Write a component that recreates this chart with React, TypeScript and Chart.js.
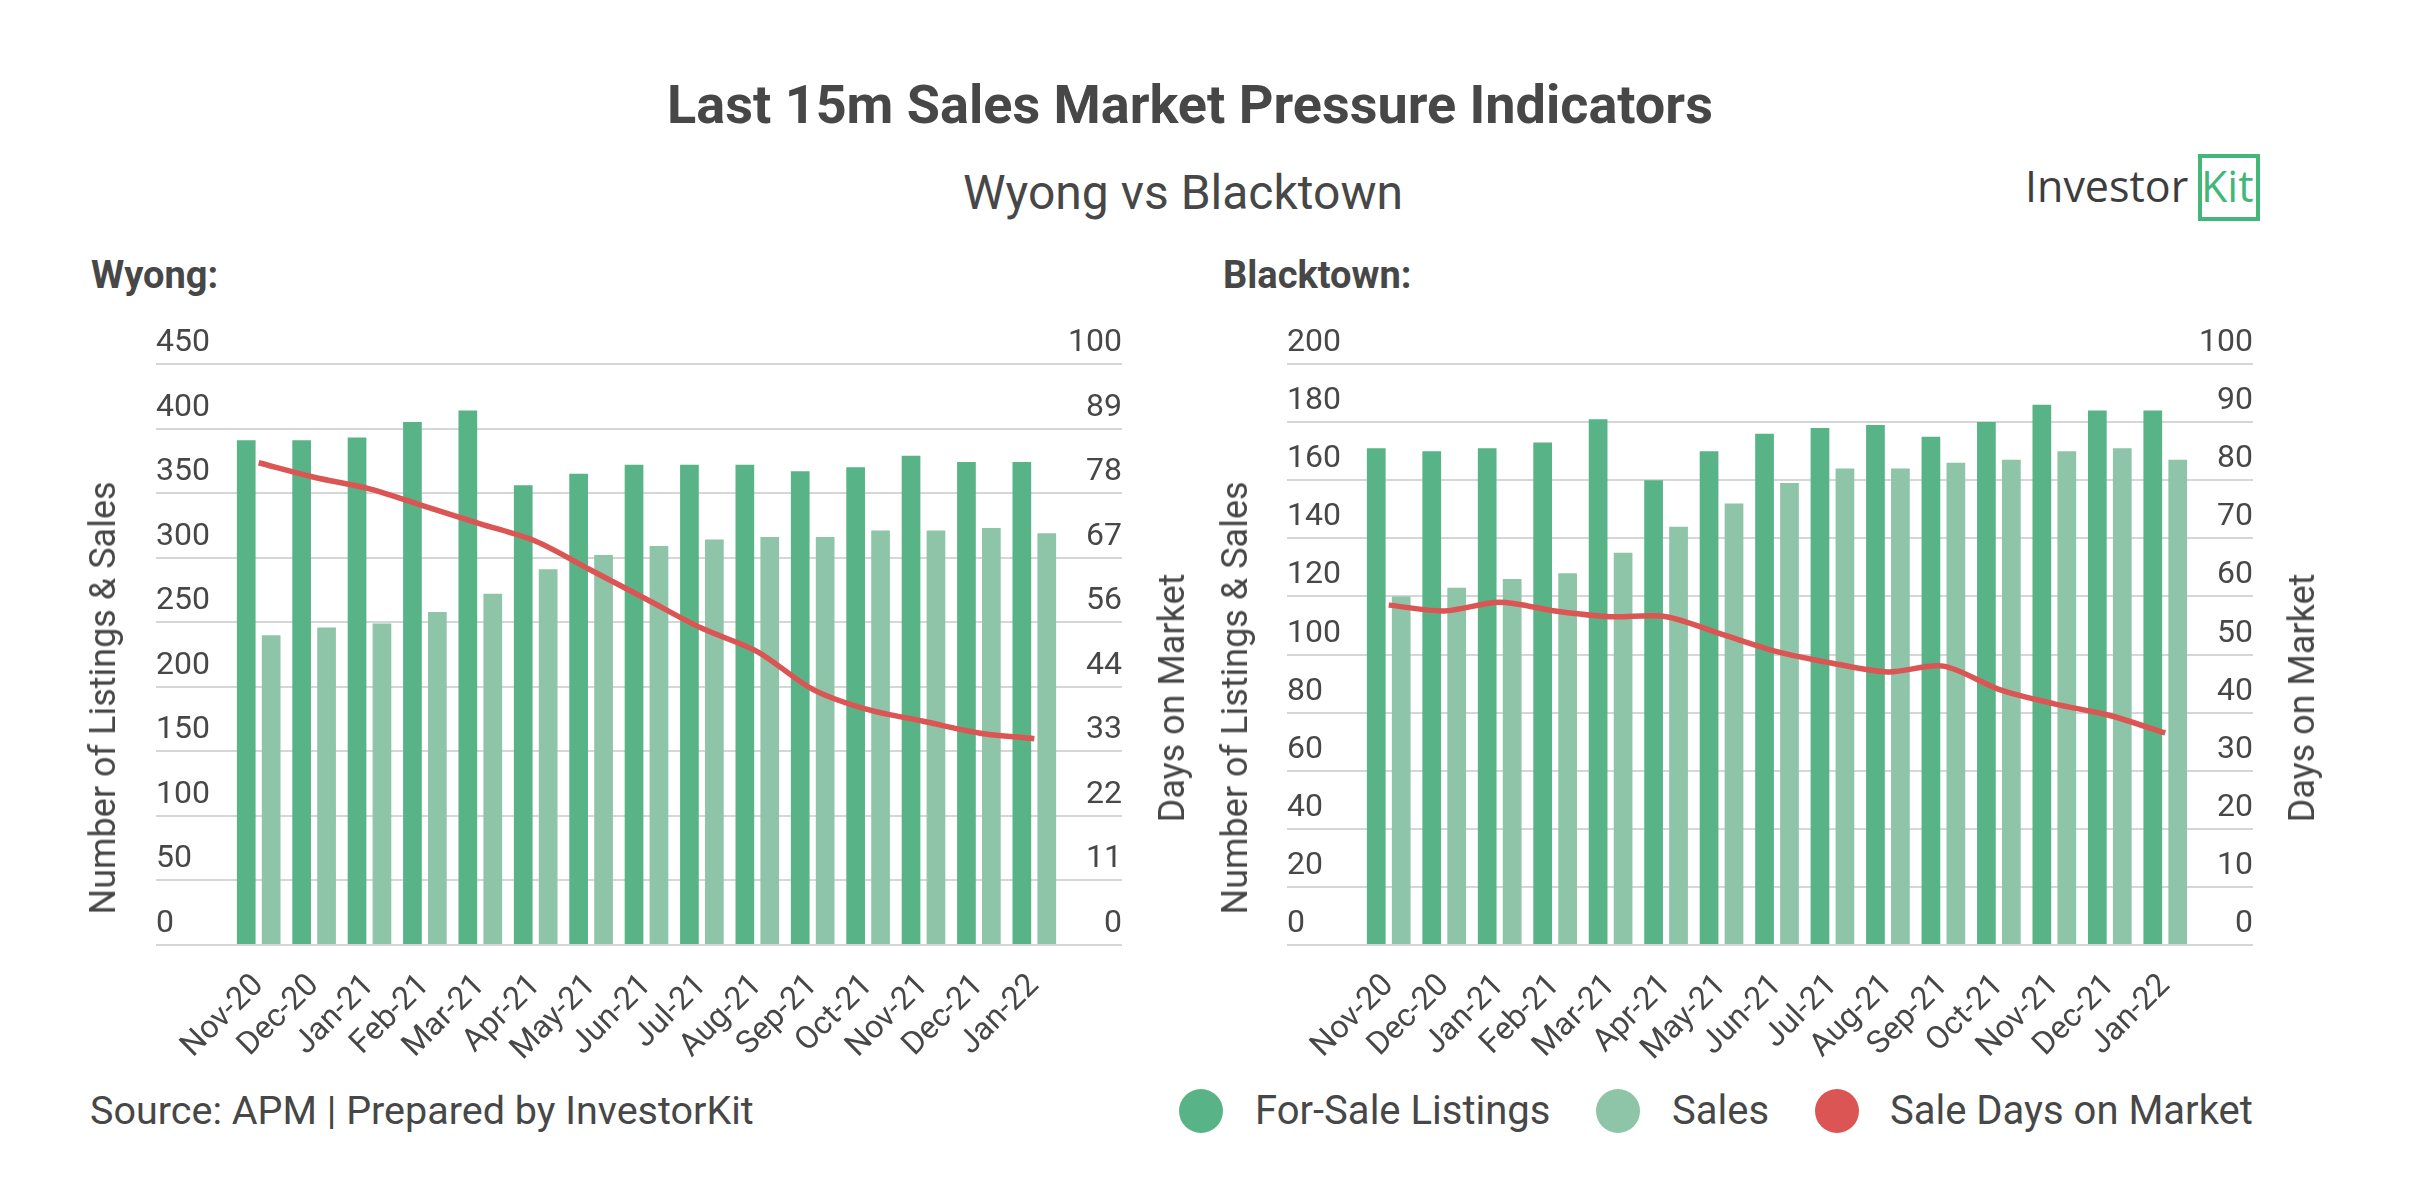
import React, { useEffect, useRef } from 'react';
import { Chart, registerables } from 'chart.js';

Chart.register(...registerables);

// Months shown on both panels
const months = [
  'Nov-20', 'Dec-20', 'Jan-21', 'Feb-21', 'Mar-21', 'Apr-21', 'May-21', 'Jun-21',
  'Jul-21', 'Aug-21', 'Sep-21', 'Oct-21', 'Nov-21', 'Dec-21', 'Jan-22',
];

// Wyong
const wyongListings = [391, 391, 393, 405, 414, 356, 365, 372, 372, 372, 367, 370, 379, 374, 374];
const wyongSales = [240, 246, 249, 258, 272, 291, 302, 309, 314, 316, 316, 321, 321, 323, 319];
const wyongDays = [83, 80.5, 78.5, 75.5, 72.5, 69.5, 64.5, 59.5, 54.5, 50.5, 44, 40.5, 38.5, 36.5, 35.5];

// Blacktown
const blacktownListings = [171, 170, 171, 173, 181, 160, 170, 176, 178, 179, 175, 180, 186, 184, 184];
const blacktownSales = [120, 123, 126, 128, 135, 144, 152, 159, 164, 164, 166, 167, 170, 171, 167];
const blacktownDays = [58.5, 57.5, 59, 57.5, 56.5, 56.5, 53.5, 50.5, 48.5, 47, 48, 44, 41.5, 39.5, 36.5];

// Axis ranges and tick counts
const wyongCountMax = 450;
const wyongCountTicks = 10; // 0, 50, ... 450
const wyongDaysTicks = 10; // 0, 11, 22, ... 100
const blacktownCountMax = 200;
const blacktownCountTicks = 11; // 0, 20, ... 200
const blacktownDaysTicks = 11; // 0, 10, ... 100
const daysMax = 100;

const GREEN = '#58B486';
const LIGHT_GREEN = '#8EC4A8';
const RED = '#DB5555';
const GRID = '#D6D6D6';
const TEXT = '#474747';
const LOGO_GREEN = '#43B77A';
const FONT = 'Roboto';

type PanelProps = {
  left: number;
  listings: number[];
  sales: number[];
  days: number[];
  countMax: number;
  countTicks: number;
  daysTicks: number;
  padLeft: number;
  padRight: number;
  leftTick: number;
  rightTick: number;
  width: number;
};

const PANEL_TOP = 300;
const PANEL_HEIGHT = 780;

function MarketPanel(p: PanelProps) {
  const ref = useRef<HTMLCanvasElement>(null);

  useEffect(() => {
    const tickFont = { family: FONT, size: 32 };
    const chart = new Chart(ref.current as HTMLCanvasElement, {
      type: 'bar',
      data: {
        labels: months,
        datasets: [
          {
            type: 'line',
            label: 'Sale Days on Market',
            data: p.days,
            yAxisID: 'yDays',
            borderColor: RED,
            backgroundColor: RED,
            borderWidth: 5.5,
            pointRadius: 0,
            tension: 0.3,
            fill: false,
            order: 0,
          } as any,
          {
            type: 'bar',
            label: 'For-Sale Listings',
            data: p.listings,
            yAxisID: 'yCount',
            backgroundColor: GREEN,
            categoryPercentage: 0.9,
            barPercentage: 0.75,
            order: 1,
          },
          {
            type: 'bar',
            label: 'Sales',
            data: p.sales,
            yAxisID: 'yCount',
            backgroundColor: LIGHT_GREEN,
            categoryPercentage: 0.9,
            barPercentage: 0.75,
            order: 2,
          },
        ],
      },
      options: {
        responsive: false,
        maintainAspectRatio: false,
        animation: false,
        layout: { padding: { left: p.padLeft, right: p.padRight, top: 64, bottom: 15 } },
        plugins: {
          legend: { display: false },
          tooltip: { enabled: false },
          title: { display: false },
        },
        scales: {
          x: {
            grid: { display: false, drawTicks: false },
            border: { display: false },
            ticks: {
              font: tickFont,
              color: TEXT,
              minRotation: 45,
              maxRotation: 45,
              autoSkip: false,
              padding: 22,
            },
            afterFit: (s: any) => {
              s.height = 120;
            },
          },
          yCount: {
            type: 'linear',
            position: 'left',
            min: 0,
            max: p.countMax,
            ticks: {
              count: p.countTicks,
              font: tickFont,
              color: TEXT,
              crossAlign: 'far',
              labelOffset: -21,
              padding: 0,
            },
            grid: {
              color: GRID,
              lineWidth: 2,
              drawTicks: true,
              tickLength: p.leftTick,
              tickColor: GRID,
              tickWidth: 2,
            },
            border: { display: false },
            afterFit: (s: any) => {
              s.width = p.leftTick;
            },
          },
          yDays: {
            type: 'linear',
            position: 'right',
            min: 0,
            max: daysMax,
            ticks: {
              count: p.daysTicks,
              font: tickFont,
              color: TEXT,
              crossAlign: 'far',
              labelOffset: -21,
              padding: 0,
              callback: (v: any) => String(Math.round(Number(v))),
            },
            grid: {
              color: GRID,
              lineWidth: 2,
              drawOnChartArea: false,
              drawTicks: true,
              tickLength: p.rightTick,
              tickColor: GRID,
              tickWidth: 2,
            },
            border: { display: false },
            afterFit: (s: any) => {
              s.width = p.rightTick;
            },
          },
        },
      } as any,
    });
    return () => chart.destroy();
  }, []);

  return (
    <canvas
      ref={ref}
      width={p.width}
      height={PANEL_HEIGHT}
      style={{ position: 'absolute', left: p.left, top: PANEL_TOP, width: p.width, height: PANEL_HEIGHT, display: 'block' }}
    />
  );
}

// Text placed by its baseline; k is the baseline position within a line-height:1 box
function Label(props: {
  x: number;
  baseline: number;
  size: number;
  weight?: number;
  family?: string;
  color?: string;
  center?: boolean;
  k?: number;
  children: React.ReactNode;
}) {
  const k = props.k ?? 0.842;
  const top = props.baseline - k * props.size;
  const style: React.CSSProperties = {
    position: 'absolute',
    top,
    fontFamily: props.family ?? FONT,
    fontSize: props.size,
    fontWeight: props.weight ?? 400,
    lineHeight: 1,
    color: props.color ?? TEXT,
    whiteSpace: 'nowrap',
  };
  if (props.center) {
    style.left = props.x - 1000;
    style.width = 2000;
    style.textAlign = 'center';
  } else {
    style.left = props.x;
  }
  return <div style={style}>{props.children}</div>;
}

function AxisTitle(props: { cx: number; cy: number; children: React.ReactNode }) {
  return (
    <div
      style={{
        position: 'absolute',
        left: props.cx,
        top: props.cy,
        transform: 'translate(-50%, -50%) rotate(-90deg)',
        fontFamily: FONT,
        fontSize: 36,
        lineHeight: 1,
        color: TEXT,
        whiteSpace: 'nowrap',
      }}
    >
      {props.children}
    </div>
  );
}

function LegendDot(props: { x: number; color: string }) {
  return (
    <div
      style={{
        position: 'absolute',
        left: props.x,
        top: 1089,
        width: 44,
        height: 44,
        borderRadius: '50%',
        background: props.color,
      }}
    />
  );
}

export default function App() {
  return (
    <div
      style={{
        position: 'absolute',
        left: 0,
        top: 0,
        width: 2409,
        height: 1200,
        background: '#ffffff',
        overflow: 'hidden',
      }}
    >
      <Label x={1190} baseline={123} size={54} weight={700} center>
        Last 15m Sales Market Pressure Indicators
      </Label>
      <Label x={1183} baseline={209} size={48} center>
        Wyong vs Blacktown
      </Label>

      {/* InvestorKit logo */}
      <Label x={2025} baseline={202} size={43} family='"Open Sans"' color="#3d3d3d" k={0.888}>
        Investor
      </Label>
      <div
        style={{
          position: 'absolute',
          left: 2198,
          top: 154,
          width: 62,
          height: 67,
          boxSizing: 'border-box',
          border: `4px solid ${LOGO_GREEN}`,
        }}
      />
      <Label x={2201} baseline={202} size={43} family='"Open Sans"' color={LOGO_GREEN} k={0.888}>
        Kit
      </Label>

      <Label x={91} baseline={288} size={38} weight={700}>
        Wyong:
      </Label>
      <Label x={1223} baseline={288} size={38} weight={700}>
        Blacktown:
      </Label>

      <MarketPanel
        left={0}
        width={1200}
        listings={wyongListings}
        sales={wyongSales}
        days={wyongDays}
        countMax={wyongCountMax}
        countTicks={wyongCountTicks}
        daysTicks={wyongDaysTicks}
        padLeft={156}
        padRight={78}
        leftTick={75}
        rightTick={60}
      />
      <MarketPanel
        left={1200}
        width={1209}
        listings={blacktownListings}
        sales={blacktownSales}
        days={blacktownDays}
        countMax={blacktownCountMax}
        countTicks={blacktownCountTicks}
        daysTicks={blacktownDaysTicks}
        padLeft={87}
        padRight={156}
        leftTick={74}
        rightTick={60}
      />

      <AxisTitle cx={103} cy={698}>Number of Listings &amp; Sales</AxisTitle>
      <AxisTitle cx={1172} cy={698}>Days on Market</AxisTitle>
      <AxisTitle cx={1235} cy={698}>Number of Listings &amp; Sales</AxisTitle>
      <AxisTitle cx={2302} cy={698}>Days on Market</AxisTitle>

      <Label x={90} baseline={1124} size={39.5}>
        Source: APM | Prepared by InvestorKit
      </Label>

      <LegendDot x={1179} color={GREEN} />
      <Label x={1255} baseline={1125} size={40}>
        For-Sale Listings
      </Label>
      <LegendDot x={1596} color={LIGHT_GREEN} />
      <Label x={1672} baseline={1125} size={40}>
        Sales
      </Label>
      <LegendDot x={1815} color={RED} />
      <Label x={1890} baseline={1125} size={40}>
        Sale Days on Market
      </Label>
    </div>
  );
}
